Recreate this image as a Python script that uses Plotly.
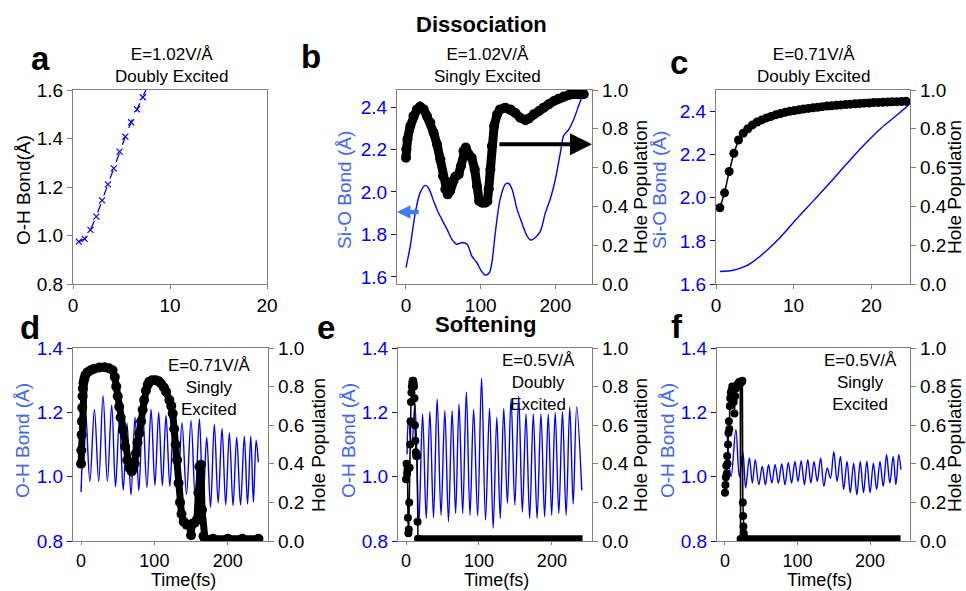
import plotly.graph_objects as go

# ------------------------- data -------------------------
# a : O-H bond, E=1.02 V/A, doubly excited
a_time = [0.6, 1.2, 1.8, 2.4, 3.0, 3.6, 4.2, 4.8, 5.4, 6.0, 6.6, 7.2, 7.8]
a_oh = [0.975, 0.986, 1.023, 1.078, 1.145, 1.211, 1.277, 1.346, 1.408, 1.467, 1.520, 1.570, 1.625]

# b : Si-O bond + hole population, E=1.02 V/A, singly excited
b_time_sio = [0, 5.8, 12.5, 19, 26, 30, 37, 41.5, 48, 55, 61.6, 68, 75, 82, 88, 95, 101, 106,
              111.6, 115, 119.6, 126, 133, 137.5, 142, 148.7, 155, 162, 166.5, 173, 180, 186.6,
              193, 200, 206.7, 211, 218, 224.6, 231, 236, 240]
b_sio = [1.644, 1.746, 1.903, 1.997, 2.031, 2.02, 1.958, 1.918, 1.871, 1.824, 1.777, 1.754, 1.762,
         1.754, 1.699, 1.667, 1.628, 1.609, 1.62, 1.667, 1.809, 1.965, 2.036, 2.04, 2.013, 1.918,
         1.856, 1.793, 1.774, 1.785, 1.816, 1.903, 1.965, 2.06, 2.185, 2.264, 2.295, 2.342, 2.405,
         2.45, 2.48]
b_time_hole = [0, 0.5, 2, 5.8, 10, 14.7, 19, 23.7, 28, 32.6, 37, 41.5, 46, 49.6, 52.7, 55.8, 59,
               62.5, 66, 70.5, 73.7, 77, 80, 84, 88, 92, 95, 98, 102, 106, 109, 110.7, 113, 115,
               118, 122, 126, 133, 140, 146, 153, 160, 164, 171, 178, 184, 191, 198, 204, 211,
               218, 224.6, 231, 238]
b_hole = [0.651, 0.694, 0.746, 0.814, 0.866, 0.9, 0.914, 0.9, 0.866, 0.832, 0.78, 0.72, 0.643,
          0.557, 0.488, 0.462, 0.479, 0.531, 0.553, 0.565, 0.608, 0.686, 0.703, 0.668, 0.651,
          0.591, 0.505, 0.428, 0.419, 0.419, 0.428, 0.488, 0.591, 0.711, 0.814, 0.875, 0.9, 0.909,
          0.9, 0.883, 0.857, 0.844, 0.852, 0.875, 0.892, 0.909, 0.926, 0.943, 0.955, 0.966, 0.974,
          0.978, 0.978, 0.978]

# c : Si-O bond + hole population, E=0.71 V/A, doubly excited
c_time_sio = [0.5, 2.2, 3.9, 5.2, 6.5, 8.3, 10.4, 12.6, 14.8, 16.9, 19.1, 21.3, 23.4, 25]
c_sio = [1.658, 1.664, 1.684, 1.715, 1.754, 1.817, 1.903, 1.988, 2.074, 2.16, 2.246, 2.324, 2.386, 2.436]
c_time_hole = [0.5, 1.1, 1.7, 2.3, 2.9, 3.5, 4.1, 4.7, 5.3, 5.9, 6.5, 7.1, 7.7, 8.3, 8.9, 9.5, 10.1,
               10.7, 11.3, 11.9, 12.5, 13.1, 13.7, 14.3, 14.9, 15.5, 16.1, 16.7, 17.3, 17.9, 18.5,
               19.1, 19.7, 20.3, 20.9, 21.5, 22.1, 22.7, 23.3, 23.9, 24.5]
c_hole = [0.393, 0.47, 0.58, 0.674, 0.742, 0.777, 0.80, 0.82, 0.835, 0.846, 0.856, 0.864, 0.872,
          0.879, 0.885, 0.890, 0.894, 0.898, 0.902, 0.905, 0.908, 0.911, 0.914, 0.917, 0.919, 0.921,
          0.923, 0.925, 0.927, 0.929, 0.930, 0.932, 0.933, 0.935, 0.936, 0.937, 0.938, 0.939, 0.940,
          0.941, 0.942]

# d : O-H bond + hole population, E=0.71 V/A, singly excited
d_time_oh = [0, 5.9, 12, 18.2, 24.1, 30, 35.9, 41.8, 47, 52.3, 57.5, 62.7, 68.1, 73.6, 78.8, 84.1,
             89.8, 95.5, 100.7, 105.9, 110.9, 115.9, 121.1, 126.4, 132, 137.7, 143.8, 150, 155.7,
             161.4, 166.4, 171.4, 176.6, 181.8, 187, 192.3, 197.3, 202.3, 207.3, 212.3, 217.5,
             222.7, 227.1, 231.5, 235.1, 238.8, 241.8]
d_oh = [0.952, 1.209, 0.985, 1.209, 0.985, 1.252, 0.985, 1.223, 0.968, 1.18, 0.958, 1.166, 0.943,
        1.185, 0.956, 1.20, 0.966, 1.209, 0.973, 1.20, 0.972, 1.19, 0.97, 1.18, 0.954, 1.168, 0.945,
        1.175, 0.935, 1.18, 0.92, 1.123, 0.905, 1.163, 0.918, 1.15, 0.912, 1.137, 0.91, 1.123,
        0.912, 1.126, 0.915, 1.126, 0.92, 1.113, 1.045]
d_time_hole = [0, 0.4, 0.8, 1.2, 1.6, 2.0, 2.5, 3.2, 4.5, 6, 9, 13, 18, 25, 32, 38, 43, 46, 48, 50,
               52, 54, 57, 60, 63, 66, 69, 71, 73, 75, 77, 79.5, 82, 84, 86, 88.5, 91, 93, 97, 102,
               106, 109, 113, 116, 120.5, 123, 125, 127, 129, 131, 133, 135, 137, 140, 144, 148,
               150, 152, 155, 158, 160, 161.5, 163.5, 165, 167, 169, 180, 200, 220, 242]
d_hole = [0.40, 0.47, 0.55, 0.62, 0.69, 0.75, 0.79, 0.82, 0.84, 0.86, 0.875, 0.885, 0.893, 0.899,
          0.90, 0.895, 0.885, 0.85, 0.80, 0.75, 0.696, 0.64, 0.576, 0.49, 0.42, 0.378, 0.36, 0.375,
          0.40, 0.455, 0.51, 0.558, 0.62, 0.68, 0.73, 0.78, 0.81, 0.825, 0.833, 0.833, 0.828,
          0.816, 0.795, 0.773, 0.73, 0.70, 0.66, 0.58, 0.50, 0.42, 0.30, 0.20, 0.14, 0.10, 0.085,
          0.08, 0.03, 0.09, 0.095, 0.11, 0.25, 0.385, 0.395, 0.16, 0.025, 0.012, 0.012, 0.012,
          0.012, 0.012]

# e : O-H bond + hole population, E=0.5 V/A, doubly excited
e_time_oh = [1.5, 3.2, 7.7, 12.3, 17.5, 22.7, 27.7, 32.7, 37.7, 42.7, 48, 53.2, 58.2, 63.2, 68,
             72.7, 77.7, 82.7, 87.7, 92.7, 98.2, 103.6, 109, 114.5, 119.5, 124.5, 129.2, 134, 139,
             144, 149.2, 154.5, 159.5, 164.5, 169.5, 174.5, 179.7, 185, 190, 195, 199.7, 204.5,
             209.5, 214.5, 219.5, 224.5, 229.2, 234, 241]
e_oh = [1.07, 1.175, 1.092, 1.226, 0.851, 1.195, 0.87, 1.203, 0.872, 1.242, 0.88, 1.206, 0.86,
        1.206, 0.886, 1.226, 0.886, 1.263, 0.88, 1.209, 0.878, 1.306, 0.865, 1.213, 0.84, 1.185,
        0.87, 1.213, 0.917, 1.242, 0.912, 1.25, 0.89, 1.195, 0.87, 1.195, 0.87, 1.195, 0.875,
        1.195, 0.88, 1.20, 0.886, 1.203, 0.88, 1.217, 0.915, 1.217, 0.957]
e_time_hole = [0, 0.7, 1.4, 2.0, 2.6, 3.2, 3.8, 4.4, 5.0, 5.6, 6.2, 6.8, 7.4, 8.0, 8.6, 9.2, 9.8,
               10.4, 11.0, 11.6, 12.2, 12.8, 13.4, 14.0, 14.6, 15.2, 15.8, 16.4]
e_hole = [0.32, 0.40, 0.35, 0.37, 0.12, 0.04, 0.06, 0.20, 0.38, 0.50, 0.62, 0.72, 0.77, 0.80, 0.82,
          0.83, 0.83, 0.82, 0.80, 0.74, 0.60, 0.52, 0.46, 0.44, 0.45, 0.44, 0.10, 0.012]
e_time_tail = [16.4, 242]
e_tail = [0.012, 0.012]

# f : O-H bond + hole population, E=0.5 V/A, singly excited
f_time_oh = [3, 8.5, 15, 19.8, 24.7, 28.5, 33.6, 37.7, 41.8, 46.6, 51.4, 55.7, 60, 64.5, 69.1,
             73.6, 78.2, 82.7, 87.3, 91.8, 96.4, 100.7, 105, 109.5, 114.1, 118.4, 122.7, 127.2,
             131.8, 136.3, 140.9, 145.4, 150, 154.5, 159.1, 163.6, 168.2, 172.7, 177.3, 181.8,
             186.4, 190.9, 195.5, 200, 204.5, 209, 213.6, 218.1, 222.7, 227.2, 231.8, 235.6,
             239.5, 242.5]
f_oh = [1.13, 1.0, 1.147, 1.0, 1.075, 0.965,
        1.058, 0.98, 1.053, 0.975, 1.032, 0.975, 1.037, 0.98, 1.037, 0.98, 1.04, 0.975, 1.044,
        0.98, 1.047, 0.985, 1.05, 0.975, 1.053, 0.98, 1.047, 0.985, 1.058, 0.97, 1.027, 0.995,
        1.078, 0.985, 1.063, 0.96, 1.047, 0.95, 1.042, 0.944, 1.047, 0.95, 1.047, 0.95, 1.042,
        0.96, 1.047, 0.97, 1.068, 0.98, 1.063, 0.975, 1.068, 1.022]
f_time_hole = [0, 0.6, 1.2, 1.8, 2.4, 3.0, 3.6, 4.2, 4.8, 5.4, 6.0, 6.6, 7.2, 8, 9, 10, 11, 12,
               13, 14, 15, 16, 17, 18, 19, 20, 21, 21.5, 22, 23, 24, 24.6, 25.0, 25.4, 25.8,
               26.4, 27.0]
f_hole = [0.25, 0.29, 0.33, 0.39, 0.35, 0.44, 0.40, 0.50, 0.56, 0.62, 0.58, 0.70, 0.74, 0.77,
          0.78, 0.80, 0.76, 0.72, 0.66, 0.75, 0.79, 0.80, 0.81, 0.815, 0.82, 0.825, 0.82, 0.01,
          0.82, 0.825, 0.83, 0.20, 0.13, 0.075, 0.04, 0.02, 0.012]
f_time_tail = [27.0, 242]
f_tail = [0.012, 0.012]

# ------------------------- style -------------------------
W, H = 966, 591
FONT = "Liberation Sans, Arial, Helvetica, sans-serif"
GRAY = "#808080"
BLUE = "#0000ff"
TITLE_BLUE = "#4066f2"
ARROW_BLUE = "#3f7ef0"
TICK = 19


def dom_x(x0, x1):
    return [x0 / W, x1 / W]


def dom_y(y0, y1):
    return [1 - y1 / H, 1 - y0 / H]


def xaxis(dom, rng, tickvals, anchor, fsize=TICK, tlen=4):
    return dict(domain=dom, range=rng, tickvals=tickvals, anchor=anchor, ticks="outside",
                ticklen=tlen, tickwidth=1.2, tickcolor=GRAY, showline=True, linecolor=GRAY,
                linewidth=1.3, mirror=True, showgrid=False, zeroline=False, automargin=False,
                tickfont=dict(family=FONT, size=fsize, color="black"))


def yleft(dom, rng, tickvals, anchor, tcolor, mirror=False):
    return dict(domain=dom, range=rng, tickvals=tickvals, tickformat=".1f", anchor=anchor,
                ticks="outside", ticklen=5, tickwidth=1.2, tickcolor=tcolor if tcolor != "black" else GRAY,
                showline=True, linecolor=GRAY, linewidth=1.3, mirror=mirror, showgrid=False,
                zeroline=False, automargin=False, tickfont=dict(family=FONT, size=TICK, color=tcolor))


def yright(dom, anchor, overlay):
    return dict(domain=dom, range=[0, 1], tickvals=[0, 0.2, 0.4, 0.6, 0.8, 1.0], tickformat=".1f",
                anchor=anchor, overlaying=overlay, side="right", ticks="outside", ticklen=5,
                tickwidth=1.2, tickcolor=GRAY, showline=True, linecolor=GRAY, linewidth=1.3,
                showgrid=False, zeroline=False, automargin=False,
                tickfont=dict(family=FONT, size=TICK, color="black"))


top = (90, 284)
bot = (348, 541)
layout = dict(width=W, height=H, margin=dict(l=0, r=0, t=0, b=0, autoexpand=False),
              showlegend=False, paper_bgcolor="white", plot_bgcolor="white",
              font=dict(family=FONT), template="none")

# a
layout["xaxis"] = xaxis(dom_x(73, 267), [0, 20], [0, 10, 20], "y")
layout["yaxis"] = yleft(dom_y(*top), [0.8, 1.6], [0.8, 1.0, 1.2, 1.4, 1.6], "x", "black", mirror=True)
# b
layout["xaxis2"] = xaxis(dom_x(397, 592), [-12, 249], [0, 100, 200], "y2")
layout["yaxis2"] = yleft(dom_y(*top), [1.567, 2.48], [1.6, 1.8, 2.0, 2.2, 2.4], "x2", BLUE)
layout["yaxis3"] = yright(dom_y(*top), "x2", "y2")
# c
layout["xaxis3"] = xaxis(dom_x(716, 910), [0, 25], [0, 10, 20], "y4")
layout["yaxis4"] = yleft(dom_y(*top), [1.6, 2.5], [1.6, 1.8, 2.0, 2.2, 2.4], "x3", BLUE)
layout["yaxis5"] = yright(dom_y(*top), "x3", "y4")
# d, e, f
for i, (x0, x1) in enumerate([(73, 268), (398, 592), (717, 910)]):
    xi = 4 + i
    yl = 6 + 2 * i
    layout[f"xaxis{xi}"] = xaxis(dom_x(x0, x1), [-11, 255], [0, 100, 200], f"y{yl}", fsize=18, tlen=3)
    layout[f"yaxis{yl}"] = yleft(dom_y(*bot), [0.8, 1.4], [0.8, 1.0, 1.2, 1.4], f"x{xi}", BLUE)
    layout[f"yaxis{yl + 1}"] = yright(dom_y(*bot), f"x{xi}", f"y{yl}")

fig = go.Figure(layout=layout)


def blue_line(x, y, xa, ya, smooth=1.0):
    fig.add_trace(go.Scatter(x=x, y=y, xaxis=xa, yaxis=ya, mode="lines",
                             line=dict(color=BLUE, width=1.4, shape="spline", smoothing=smooth)))


def hole_band(x, y, xa, ya, width=9, msize=10):
    fig.add_trace(go.Scatter(x=x, y=y, xaxis=xa, yaxis=ya, mode="lines",
                             line=dict(color="black", width=width)))
    fig.add_trace(go.Scatter(x=x, y=y, xaxis=xa, yaxis=ya, mode="markers",
                             marker=dict(color="black", size=msize)))


def hole_chain(x, y, xa, ya, msize=8):
    fig.add_trace(go.Scatter(x=x, y=y, xaxis=xa, yaxis=ya, mode="lines+markers",
                             line=dict(color="black", width=1.5),
                             marker=dict(color="black", size=msize)))


# a
fig.add_trace(go.Scatter(x=a_time, y=a_oh, xaxis="x", yaxis="y", mode="lines+markers",
                         line=dict(color=BLUE, width=1.3, dash="dash"),
                         marker=dict(symbol="x-thin", size=6, line=dict(color=BLUE, width=1.2))))
# b
blue_line(b_time_sio, b_sio, "x2", "y2", 0.8)
hole_band(b_time_hole, b_hole, "x2", "y3")
# c
fig.add_trace(go.Scatter(x=c_time_sio, y=c_sio, xaxis="x3", yaxis="y4", mode="lines",
                         line=dict(color=BLUE, width=1.4, shape="spline")))
hole_chain(c_time_hole, c_hole, "x3", "y5", msize=9)
# d
blue_line(d_time_oh, d_oh, "x4", "y6")
hole_band(d_time_hole, d_hole, "x4", "y7", width=7, msize=10)
# e
blue_line(e_time_oh, e_oh, "x5", "y8")
hole_chain(e_time_hole, e_hole, "x5", "y9", msize=8)
fig.add_trace(go.Scatter(x=e_time_tail, y=e_tail, xaxis="x5", yaxis="y9", mode="lines",
                         line=dict(color="black", width=7)))
# f
blue_line(f_time_oh, f_oh, "x6", "y10")
hole_chain(f_time_hole, f_hole, "x6", "y11", msize=8)
fig.add_trace(go.Scatter(x=f_time_tail, y=f_tail, xaxis="x6", yaxis="y11", mode="lines",
                         line=dict(color="black", width=7)))

# ------------------------- annotations -------------------------
ann = []


def text(x, y, s, size, bold=False, color="black", angle=0):
    ann.append(dict(x=x / W, y=1 - y / H, xref="paper", yref="paper", text=(f"<b>{s}</b>" if bold else s),
                    showarrow=False, xanchor="center", yanchor="middle", textangle=angle,
                    font=dict(family=FONT, size=size, color=color)))


text(481, 25, "Dissociation", 22, bold=True)
text(485, 325, "Softening", 22, bold=True)
for letter, (lx, ly) in {"a": (40, 58), "b": (311, 57), "c": (679, 62), "d": (30, 327),
                         "e": (326, 327), "f": (677, 326)}.items():
    text(lx, ly, letter, 33, bold=True)
text(171, 65, "E=1.02V/Å<br>Doubly Excited", 17)
text(487, 65, "E=1.02V/Å<br>Singly Excited", 17)
text(813, 65, "E=0.71V/Å<br>Doubly Excited", 17)
text(209, 387, "E=0.71V/Å<br>Singly<br>Excited", 17)
text(538, 382, "E=0.5V/Å<br>Doubly<br>Excited", 17)
text(860, 382, "E=0.5V/Å<br>Singly<br>Excited", 17)

# axis titles
text(24, 190, "O-H Bond(Å)", 19, angle=-90)
text(345, 190, "Si-O Bond (Å)", 19, color=TITLE_BLUE, angle=-90)
text(640, 187, "Hole Population", 19, angle=-90)
text(660, 190, "Si-O Bond (Å)", 19, color=TITLE_BLUE, angle=-90)
text(954, 187, "Hole Population", 19, angle=-90)
for lx, rx, tx in [(22, 318, 183), (348, 640, 497), (667, 954, 819)]:
    text(lx, 441, "O-H Bond (Å)", 19, color=TITLE_BLUE, angle=-90)
    text(rx, 445, "Hole Population", 19, angle=-90)
    text(tx, 580, "Time(fs)", 18)

# arrows in b
ann.append(dict(x=249, y=0.72, xref="x2", yref="y3", ax=123, ay=0.72, axref="x2", ayref="y3",
                text="", showarrow=True, arrowhead=2, arrowsize=1.1, arrowwidth=4,
                arrowcolor="black"))
ann.append(dict(x=-12, y=1.906, xref="x2", yref="y2", ax=19, ay=1.906, axref="x2", ayref="y2",
                text="", showarrow=True, arrowhead=2, arrowsize=0.6, arrowwidth=4.5,
                arrowcolor=ARROW_BLUE))
fig.update_layout(annotations=ann)

fig.write_html("out.html")
